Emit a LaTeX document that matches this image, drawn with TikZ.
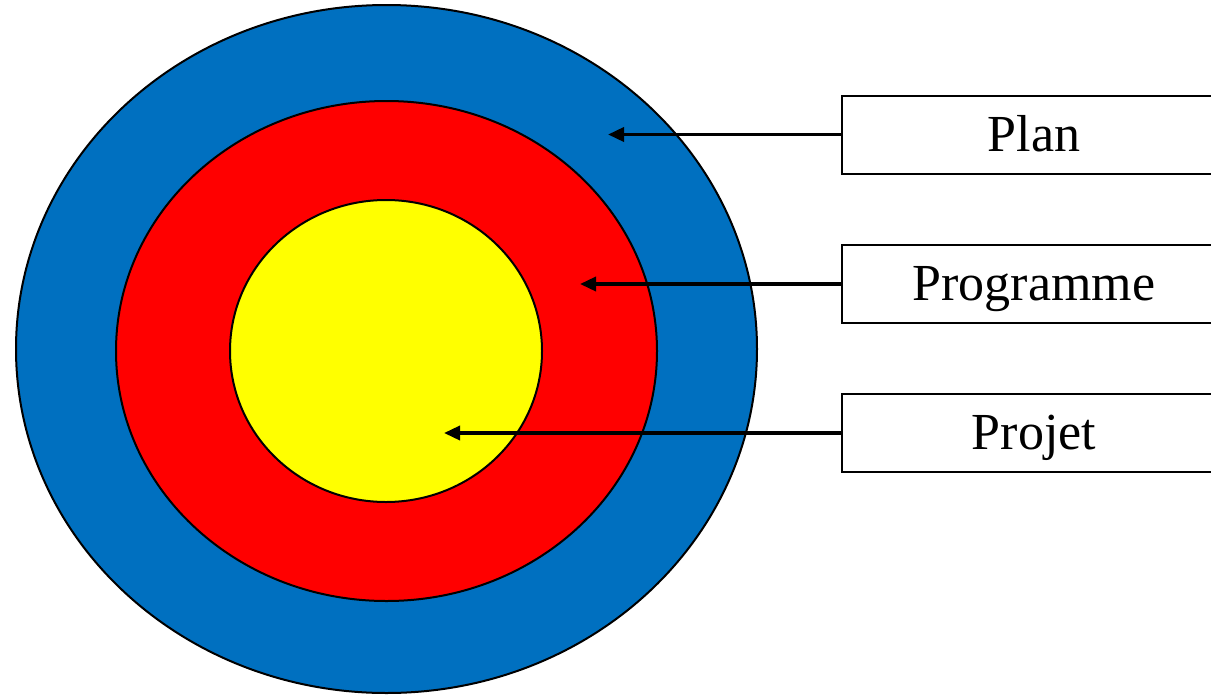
\documentclass[tikz,border=0pt]{standalone}
\usepackage{fontspec}
\setmainfont{Liberation Serif}
\usetikzlibrary{shapes.geometric,arrows.meta}
\definecolor{ringblue}{RGB}{0,112,192}
\definecolor{ringred}{RGB}{255,0,0}
\definecolor{ringyellow}{RGB}{255,255,0}
\begin{document}
\begin{tikzpicture}[x=1pt,y=-1pt,
  ring/.style={ellipse,draw=black,line width=2pt,inner sep=0pt},
  label box/.style={rectangle,draw=black,line width=2pt,fill=white,
    minimum width=384pt,minimum height=78pt,inner sep=0pt,
    text height=33pt,text depth=0pt,
    font=\fontsize{52}{60}\selectfont},
  pointer/.style={line width=3.5pt,-{Triangle[length=16pt,width=14pt]}}]
\useasboundingbox (0,0) rectangle (1211,694);
\clip (0,0) rectangle (1211,694);
\node[ring,fill=ringblue,minimum width=741pt,minimum height=688pt] (outer) at (386.5,349) {};
\node[ring,fill=ringred,minimum width=541pt,minimum height=500pt] (middle) at (386.5,351) {};
\node[ring,fill=ringyellow,minimum width=312pt,minimum height=302pt] (inner) at (386,351) {};
\node[label box] (plan) at (1034,134.5) {Plan};
\node[label box] (prog) at (1034,284) {Programme};
\node[label box] (proj) at (1034,433) {Projet};
\coordinate (tplan) at (608,134.5);
\coordinate (tprog) at (580,284);
\coordinate (tproj) at (444,433);
\draw[pointer] (plan.west) -- (tplan);
\draw[pointer] (prog.west) -- (tprog);
\draw[pointer] (proj.west) -- (tproj);
\end{tikzpicture}
\end{document}
